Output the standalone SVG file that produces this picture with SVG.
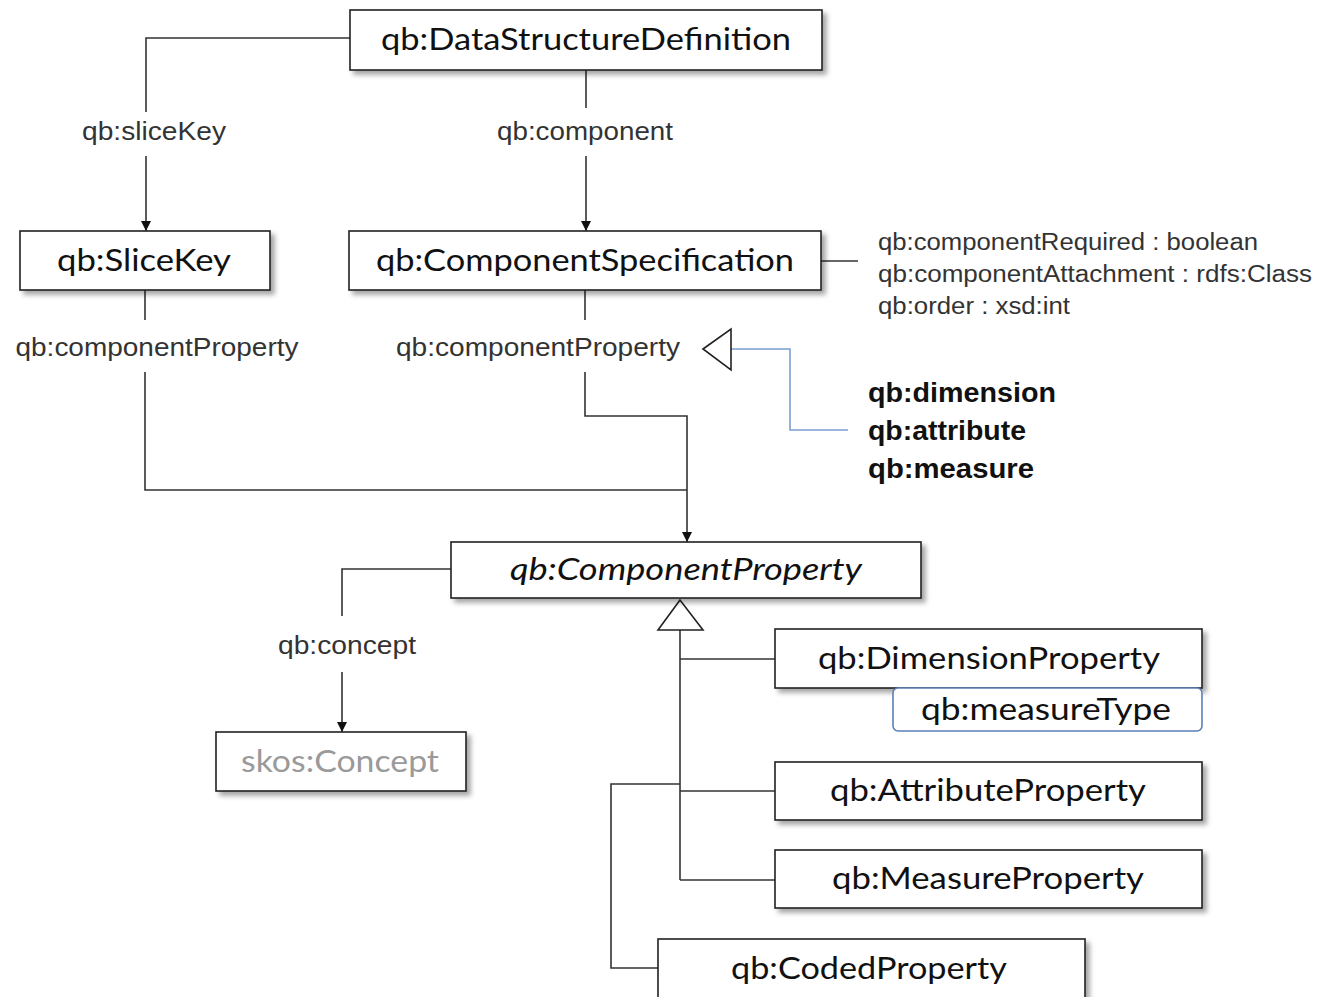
<svg xmlns="http://www.w3.org/2000/svg" width="1322" height="997" viewBox="0 0 1322 997">
  <style>
    .box { fill: #ffffff; stroke: #222222; stroke-width: 1.6; }
    .cls { font-family: Lato, "Open Sans", "Liberation Sans", sans-serif; font-size: 31px; fill: #111111; text-anchor: middle; }
    .lbl { font-family: "Liberation Sans", Arial, sans-serif; font-size: 25px; fill: #333333; text-anchor: middle; }
    .attr { font-family: "Liberation Sans", Arial, sans-serif; font-size: 23px; fill: #333333; }
    .bold { font-family: "Liberation Sans", Arial, sans-serif; font-size: 27px; font-weight: bold; fill: #111111; }
    .ln { fill: none; stroke: #333333; stroke-width: 1.6; }
    .blue { fill: none; stroke: #7a9fd0; stroke-width: 1.6; }
    .tri { fill: #ffffff; stroke: #222222; stroke-width: 1.6; }
  </style>
  <defs>
    <filter id="shadow" x="-5%" y="-20%" width="115%" height="160%">
      <feDropShadow dx="4" dy="4" stdDeviation="2.5" flood-color="#000000" flood-opacity="0.35"/>
    </filter>
    <marker id="arrow" viewBox="0 0 10 10" refX="10" refY="5" markerWidth="10" markerHeight="10" markerUnits="userSpaceOnUse" orient="auto">
      <path d="M0,0 L10,5 L0,10 Z" fill="#111111"/>
    </marker>
  </defs>

  <rect width="1322" height="997" fill="#ffffff"/>

  <!-- connectors -->
  <g id="connectors">
    <!-- qb:sliceKey -->
    <polyline class="ln" points="350,38 146,38 146,112"/>
    <line class="ln" x1="146" y1="156" x2="146" y2="231" marker-end="url(#arrow)"/>
    <text class="lbl" x="154" y="140" textLength="144" lengthAdjust="spacingAndGlyphs">qb:sliceKey</text>
    <!-- qb:component -->
    <line class="ln" x1="586" y1="70" x2="586" y2="108"/>
    <line class="ln" x1="586" y1="156" x2="586" y2="231" marker-end="url(#arrow)"/>
    <text class="lbl" x="585" y="140" textLength="176" lengthAdjust="spacingAndGlyphs">qb:component</text>
    <!-- qb:componentProperty from SliceKey -->
    <line class="ln" x1="145" y1="290" x2="145" y2="320"/>
    <polyline class="ln" points="145,372 145,490 687,490"/>
    <text class="lbl" x="157" y="356" textLength="283" lengthAdjust="spacingAndGlyphs">qb:componentProperty</text>
    <!-- qb:componentProperty from ComponentSpecification -->
    <line class="ln" x1="585" y1="290" x2="585" y2="320"/>
    <polyline class="ln" points="585,372 585,416 687,416 687,542" marker-end="url(#arrow)"/>
    <text class="lbl" x="538" y="356" textLength="284" lengthAdjust="spacingAndGlyphs">qb:componentProperty</text>
    <!-- subproperties of qb:componentProperty -->
    <polyline class="blue" points="731,349 790,349 790,430 848,430"/>
    <polygon class="tri" points="703,349 731,329 731,370"/>
    <!-- attributes of ComponentSpecification -->
    <line class="ln" x1="821" y1="261" x2="858" y2="261"/>
    <!-- qb:concept -->
    <polyline class="ln" points="451,569 342,569 342,616"/>
    <line class="ln" x1="342" y1="672" x2="342" y2="732" marker-end="url(#arrow)"/>
    <text class="lbl" x="347" y="654" textLength="138" lengthAdjust="spacingAndGlyphs">qb:concept</text>
    <!-- subclasses of ComponentProperty -->
    <line class="ln" x1="680" y1="630" x2="680" y2="880"/>
    <line class="ln" x1="680" y1="659" x2="775" y2="659"/>
    <line class="ln" x1="680" y1="791" x2="775" y2="791"/>
    <polyline class="ln" points="680,880 775,880"/>
    <polyline class="ln" points="680,784 611,784 611,968 658,968"/>
    <polygon class="tri" points="680,600 658,630 703,630"/>
  </g>

  <!-- nodes -->
  <g id="dsd">
    <rect class="box" filter="url(#shadow)" x="350" y="10" width="472" height="60"/>
    <text class="cls" x="586" y="50" textLength="410" lengthAdjust="spacingAndGlyphs">qb:DataStructureDefinition</text>
  </g>
  <g id="slicekey">
    <rect class="box" filter="url(#shadow)" x="20" y="231" width="250" height="59"/>
    <text class="cls" x="144" y="271" textLength="174" lengthAdjust="spacingAndGlyphs">qb:SliceKey</text>
  </g>
  <g id="componentspec">
    <rect class="box" filter="url(#shadow)" x="349" y="231" width="472" height="59"/>
    <text class="cls" x="585" y="271" textLength="418" lengthAdjust="spacingAndGlyphs">qb:ComponentSpecification</text>
  </g>
  <g id="componentspec-attrs">
    <text class="attr" x="878" y="250" textLength="380" lengthAdjust="spacingAndGlyphs">qb:componentRequired : boolean</text>
    <text class="attr" x="878" y="282" textLength="434" lengthAdjust="spacingAndGlyphs">qb:componentAttachment : rdfs:Class</text>
    <text class="attr" x="878" y="314" textLength="192" lengthAdjust="spacingAndGlyphs">qb:order : xsd:int</text>
  </g>
  <g id="subproperties">
    <text class="bold" x="868" y="402" textLength="188" lengthAdjust="spacingAndGlyphs">qb:dimension</text>
    <text class="bold" x="868" y="440" textLength="158" lengthAdjust="spacingAndGlyphs">qb:attribute</text>
    <text class="bold" x="868" y="478" textLength="166" lengthAdjust="spacingAndGlyphs">qb:measure</text>
  </g>
  <g id="componentproperty">
    <rect class="box" filter="url(#shadow)" x="451" y="542" width="470" height="56"/>
    <text class="cls" x="686" y="580" font-style="italic" textLength="352" lengthAdjust="spacingAndGlyphs">qb:ComponentProperty</text>
  </g>
  <g id="skosconcept">
    <rect class="box" filter="url(#shadow)" x="216" y="732" width="250" height="59"/>
    <text class="cls" x="340" y="772" fill="#9a9a9a" style="fill:#9a9a9a" textLength="198" lengthAdjust="spacingAndGlyphs">skos:Concept</text>
  </g>
  <g id="dimensionproperty">
    <rect class="box" filter="url(#shadow)" x="775" y="629" width="427" height="59"/>
    <text class="cls" x="989" y="669" textLength="342" lengthAdjust="spacingAndGlyphs">qb:DimensionProperty</text>
  </g>
  <g id="measuretype">
    <rect x="893" y="688" width="309" height="43" rx="5" fill="#ffffff" stroke="#5a7fb8" stroke-width="1.6"/>
    <text class="cls" x="1046" y="720" textLength="250" lengthAdjust="spacingAndGlyphs">qb:measureType</text>
  </g>
  <g id="attributeproperty">
    <rect class="box" filter="url(#shadow)" x="775" y="762" width="427" height="58"/>
    <text class="cls" x="988" y="801" textLength="316" lengthAdjust="spacingAndGlyphs">qb:AttributeProperty</text>
  </g>
  <g id="measureproperty">
    <rect class="box" filter="url(#shadow)" x="775" y="850" width="427" height="58"/>
    <text class="cls" x="988" y="889" textLength="312" lengthAdjust="spacingAndGlyphs">qb:MeasureProperty</text>
  </g>
  <g id="codedproperty">
    <rect class="box" filter="url(#shadow)" x="658" y="939" width="427" height="62"/>
    <text class="cls" x="869" y="979" textLength="276" lengthAdjust="spacingAndGlyphs">qb:CodedProperty</text>
  </g>
</svg>
